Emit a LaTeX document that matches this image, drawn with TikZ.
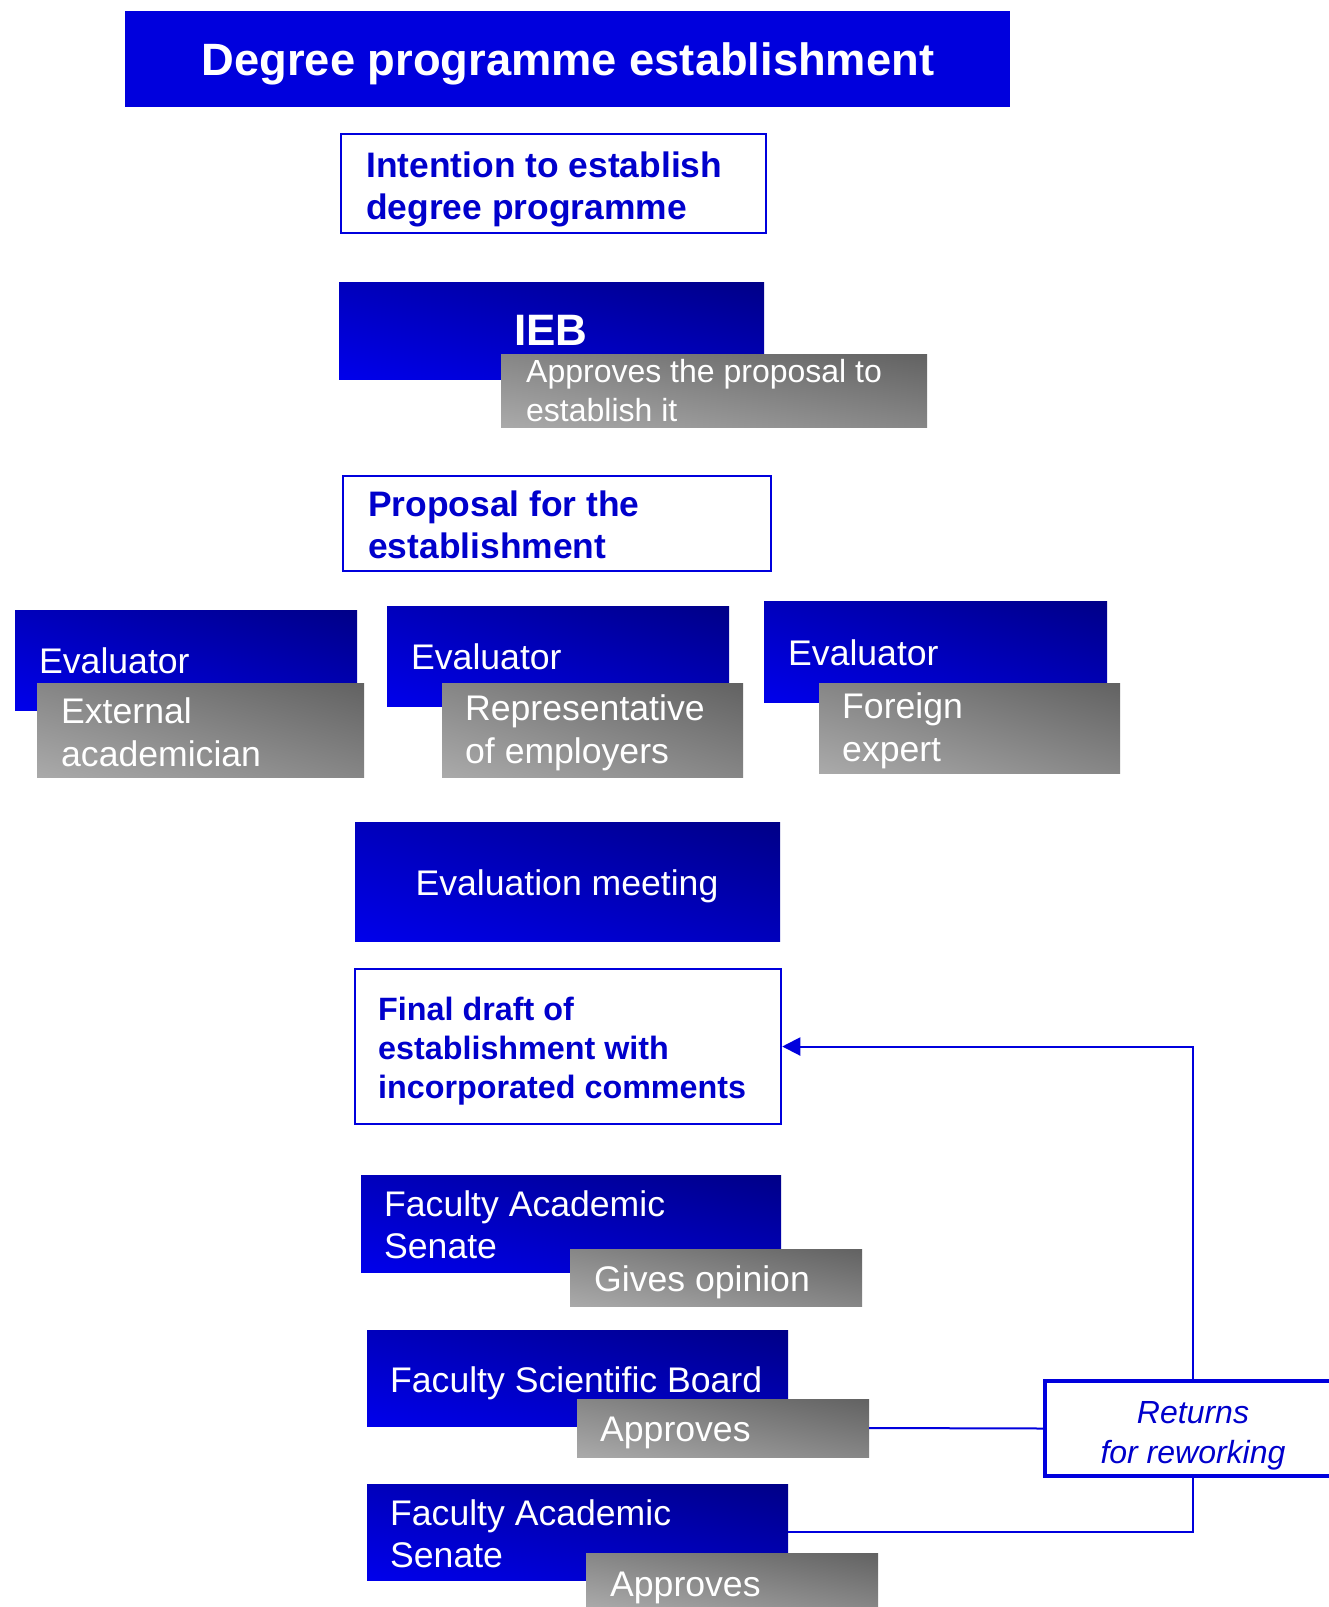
\documentclass[tikz,border=0pt]{standalone}
\usepackage{fontspec}
\setmainfont{Liberation Sans}
\usetikzlibrary{fit,arrows.meta,shadings}
\definecolor{tblue}{RGB}{0,0,221}
\definecolor{bbright}{RGB}{0,0,235}
\definecolor{bdark}{RGB}{0,0,135}
\definecolor{bmid}{RGB}{0,0,188}
\definecolor{glight}{RGB}{170,170,170}
\definecolor{gdark}{RGB}{98,98,98}
\definecolor{gmid}{RGB}{134,134,134}
\definecolor{otext}{RGB}{0,0,204}
\definecolor{oline}{RGB}{0,0,221}
\tikzset{
  bluebox/.style={rectangle, inner sep=0pt, lower left=bbright, upper right=bdark, upper left=bmid, lower right=bmid},
  greybox/.style={rectangle, inner sep=0pt, lower left=glight, upper right=gdark, upper left=gmid, lower right=gmid},
  outbox/.style={rectangle, inner sep=0pt, draw=oline, line width=2.5pt, fill=white},
  wtxt/.style={text=white, inner sep=0pt, font=\fontsize{35.6}{43}\selectfont, align=left},
  gtxt/.style={text=white, inner sep=0pt, font=\fontsize{35.6}{43}\selectfont, align=left},
  otxt/.style={text=otext, inner sep=0pt, font=\fontsize{35.4}{42}\selectfont\bfseries, align=left},
  conn/.style={draw=oline, line width=2pt},
}
\begin{document}
\begin{tikzpicture}[x=1pt,y=-1pt]
\clip (0,0) rectangle (1329,1607);
\fill[white] (0,0) rectangle (1329,1607);
% title
\node[fit={(125,11) (1010,107)}, inner sep=0pt, fill=tblue] (title) {};
\node[text=white, inner sep=0pt, font=\fontsize{45.3}{54}\selectfont\bfseries] (titletxt) at (568,64) {Degree programme establishment};
% intention
\node[outbox, fit={(341,134) (766,233)}] (intent) {};
\node[otxt, anchor=west] (intenttxt) at (366,189) {Intention to establish\\degree programme};
% IEB
\node[bluebox, fit={(339,282) (764,379)}] (ieb) {};
\node[text=white, inner sep=0pt, font=\fontsize{44}{50}\selectfont\bfseries, anchor=base] (iebtxt) at (551,345) {IEB};
\node[greybox, fit={(501,354) (927,427)}] (iebg) {};
\node[gtxt, font=\fontsize{32}{39}\selectfont, anchor=west] (iebgtxt) at (526,391) {Approves the proposal to\\establish it};
% proposal
\node[outbox, fit={(343,476) (771,571)}] (prop) {};
\node[otxt, anchor=west] (proptxt) at (368,525) {Proposal for the\\establishment};
% evaluators
\node[bluebox, fit={(15,610) (357,710)}] (ev1) {};
\node[wtxt, anchor=west] (ev1txt) at (39,661) {Evaluator};
\node[greybox, fit={(37,683) (364,777)}] (ev1g) {};
\node[gtxt, anchor=west] (ev1gtxt) at (61,732.5) {External\\academician};
\node[bluebox, fit={(387,606) (729,706)}] (ev2) {};
\node[wtxt, anchor=west] (ev2txt) at (411,657) {Evaluator};
\node[greybox, fit={(442,683) (743,777)}] (ev2g) {};
\node[gtxt, anchor=west] (ev2gtxt) at (465,732.5) {Representative\\of employers};
\node[bluebox, fit={(764,601) (1107,702)}] (ev3) {};
\node[wtxt, anchor=west] (ev3txt) at (788,653) {Evaluator};
\node[greybox, fit={(819,683) (1120,773)}] (ev3g) {};
\node[gtxt, anchor=west] (ev3gtxt) at (842,730.5) {Foreign\\expert};
% evaluation meeting
\node[bluebox, fit={(355,822) (780,941)}] (meet) {};
\node[wtxt] (meettxt) at (567,886) {Evaluation meeting};
% final draft
\node[outbox, fit={(355,969) (781,1124)}] (final) {};
\node[otxt, font=\fontsize{32.3}{39}\selectfont\bfseries, anchor=west] (finaltxt) at (378,1051) {Final draft of\\establishment with\\incorporated comments};
% FAS 1
\node[bluebox, fit={(361,1175) (781,1272)}] (fas1) {};
\node[wtxt, font=\fontsize{35.6}{42}\selectfont, anchor=west] (fas1txt) at (384,1225) {Faculty Academic\\Senate};
\node[greybox, fit={(570,1249) (862,1306)}] (fas1g) {};
\node[gtxt, anchor=west] (fas1gtxt) at (594,1282) {Gives opinion};
% FSB
\node[bluebox, fit={(367,1330) (788,1426)}] (fsb) {};
\node[wtxt, anchor=west] (fsbtxt) at (390,1383) {Faculty Scientific Board};
\node[greybox, fit={(577,1399) (869,1457)}] (fsbg) {};
\node[gtxt, anchor=west] (fsbgtxt) at (600,1433) {Approves};
% FAS 2
\node[bluebox, fit={(367,1484) (788,1580)}] (fas2) {};
\node[wtxt, font=\fontsize{35.6}{42}\selectfont, anchor=west] (fas2txt) at (390,1534) {Faculty Academic\\Senate};
\node[greybox, fit={(586,1553) (878,1607)}] (fas2g) {};
\node[gtxt, anchor=west] (fas2gtxt) at (610,1588) {Approves};
% returns
\node[outbox, line width=3.5pt, fit={(1045,1381) (1341,1476)}] (ret) {};
\node[text=otext, inner sep=0pt, font=\fontsize{32}{40}\selectfont\itshape, align=center] (rettxt) at (1193,1436) {Returns\\for reworking};
% connectors
\draw[conn] (fsbg.east) -- (ret.west);
\draw[conn] (fas2.east) -| (ret.south);
\draw[conn, -{Triangle[length=18pt,width=18pt]}] (ret.north) |- (final.east);
\end{tikzpicture}
\end{document}
